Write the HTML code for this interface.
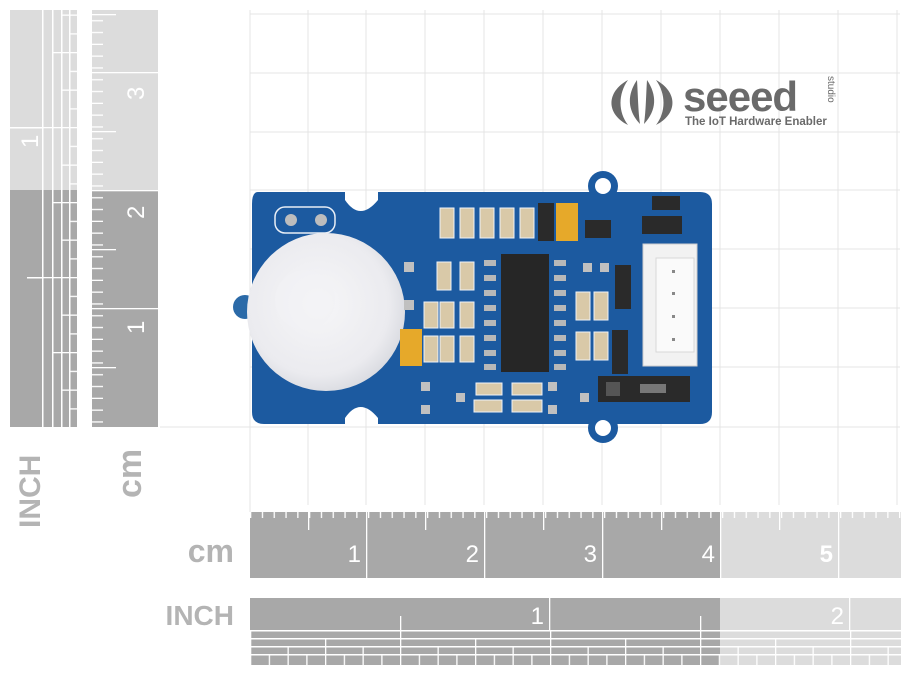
<!DOCTYPE html>
<html><head><meta charset="utf-8"><style>
html,body{margin:0;padding:0;background:#fff;}
svg{display:block;}
text{font-family:"Liberation Sans","DejaVu Sans",sans-serif;}
</style></head><body>
<svg width="911" height="675" viewBox="0 0 911 675" xmlns="http://www.w3.org/2000/svg">
<defs>
 <pattern id="vcmL" x="0" y="427" width="30" height="11.8" patternUnits="userSpaceOnUse" patternTransform="scale(1,-1)">
  <rect x="0" y="0" width="13" height="1.3" fill="#fff"/>
 </pattern>
 <pattern id="hcmB" x="250" y="0" width="11.8" height="30" patternUnits="userSpaceOnUse">
  <rect x="0" y="0" width="1.3" height="8" fill="#fff"/>
 </pattern>
 <pattern id="s16v" x="0" y="427" width="10" height="18.75" patternUnits="userSpaceOnUse"><rect width="10" height="1.3" fill="#fff"/></pattern>
 <pattern id="s8v" x="0" y="427" width="10" height="37.5" patternUnits="userSpaceOnUse"><rect width="10" height="1.3" fill="#fff"/></pattern>
 <pattern id="s4v" x="0" y="427" width="10" height="75" patternUnits="userSpaceOnUse"><rect width="10" height="1.3" fill="#fff"/></pattern>
 <pattern id="s2v" x="0" y="427" width="10" height="150" patternUnits="userSpaceOnUse"><rect width="10" height="1.3" fill="#fff"/></pattern>
 <pattern id="s16h" x="250" y="0" width="18.75" height="10" patternUnits="userSpaceOnUse"><rect width="1.3" height="10" fill="#fff"/></pattern>
 <pattern id="s8h" x="250" y="0" width="37.5" height="10" patternUnits="userSpaceOnUse"><rect width="1.3" height="10" fill="#fff"/></pattern>
 <pattern id="s4h" x="250" y="0" width="75" height="10" patternUnits="userSpaceOnUse"><rect width="1.3" height="10" fill="#fff"/></pattern>
 <pattern id="s2h" x="250" y="0" width="150" height="10" patternUnits="userSpaceOnUse"><rect width="1.3" height="10" fill="#fff"/></pattern>
 <radialGradient id="dome" cx="0.45" cy="0.45" r="0.6"><stop offset="0" stop-color="#f6f6f8"/><stop offset="0.75" stop-color="#ebebef"/><stop offset="1" stop-color="#d6d8de"/></radialGradient>
</defs>

<!-- grid -->
<g stroke="#e4e4e4" stroke-width="1">
 <line x1="250" y1="10" x2="250" y2="512"/>
 <line x1="308" y1="10" x2="308" y2="505"/><line x1="366" y1="10" x2="366" y2="505"/>
 <line x1="425" y1="10" x2="425" y2="505"/><line x1="484" y1="10" x2="484" y2="505"/>
 <line x1="543" y1="10" x2="543" y2="505"/><line x1="602" y1="10" x2="602" y2="505"/>
 <line x1="661" y1="10" x2="661" y2="505"/><line x1="720" y1="10" x2="720" y2="505"/>
 <line x1="779" y1="10" x2="779" y2="505"/><line x1="838" y1="10" x2="838" y2="505"/>
 <line x1="897" y1="10" x2="897" y2="505"/>
 <line x1="250" y1="14" x2="900" y2="14"/><line x1="250" y1="73" x2="900" y2="73"/>
 <line x1="250" y1="132" x2="900" y2="132"/><line x1="250" y1="190" x2="900" y2="190"/>
 <line x1="250" y1="249" x2="900" y2="249"/><line x1="250" y1="308" x2="900" y2="308"/>
 <line x1="250" y1="367" x2="900" y2="367"/><line x1="160" y1="427" x2="900" y2="427"/>
</g>

<!-- left INCH ruler -->
<rect x="10" y="10" width="67" height="180" fill="#dcdcdc"/>
<rect x="10" y="190" width="67" height="237" fill="#a8a8a8"/>
<rect x="42" y="10" width="1.5" height="417" fill="#fff"/>
<rect x="52" y="10" width="1.5" height="417" fill="#fff"/>
<rect x="61" y="10" width="1.5" height="417" fill="#fff"/>
<rect x="69" y="10" width="1.5" height="417" fill="#fff"/>
<rect x="43.5" y="10" width="8.5" height="417" fill="url(#s2v)"/>
<rect x="53.5" y="10" width="7.5" height="417" fill="url(#s4v)"/>
<rect x="62.5" y="10" width="6.5" height="417" fill="url(#s8v)"/>
<rect x="70.5" y="10" width="6.5" height="417" fill="url(#s16v)"/>
<rect x="10" y="127" width="33" height="1.5" fill="#fff"/>
<rect x="27" y="277" width="16" height="1.5" fill="#fff"/>
<text transform="translate(38,148) rotate(-90)" font-size="24" fill="#fff">1</text>

<!-- left cm ruler -->
<rect x="92" y="10" width="66" height="180" fill="#dcdcdc"/>
<rect x="92" y="190" width="66" height="237" fill="#a8a8a8"/>
<rect x="92" y="10" width="13" height="417" fill="url(#vcmL)"/>
<g fill="#fff">
 <rect x="92" y="72" width="66" height="1.3"/><rect x="92" y="190" width="66" height="1.3"/><rect x="92" y="308" width="66" height="1.3"/>
 <rect x="92" y="131" width="24" height="1.3"/><rect x="92" y="249" width="24" height="1.3"/><rect x="92" y="367" width="24" height="1.3"/>
 <rect x="92" y="14" width="24" height="1.3"/>
</g>
<text transform="translate(144,100) rotate(-90)" font-size="24" fill="#fff">3</text>
<text transform="translate(144,219) rotate(-90)" font-size="24" fill="#fff">2</text>
<text transform="translate(144,334) rotate(-90)" font-size="24" fill="#fff">1</text>

<text transform="translate(40,528) rotate(-90)" font-size="30" font-weight="bold" fill="#b4b4b4">INCH</text>
<text transform="translate(141,498) rotate(-90)" font-size="34" font-weight="bold" fill="#b4b4b4">cm</text>

<!-- bottom cm ruler -->
<rect x="250" y="512" width="470" height="66" fill="#a8a8a8"/>
<rect x="720" y="512" width="181" height="66" fill="#dcdcdc"/>
<rect x="250" y="512" width="651" height="8" fill="url(#hcmB)"/>
<g fill="#fff">
 <rect x="366" y="512" width="1.3" height="66"/><rect x="484" y="512" width="1.3" height="66"/>
 <rect x="602" y="512" width="1.3" height="66"/><rect x="720" y="512" width="1.3" height="66"/>
 <rect x="838" y="512" width="1.3" height="66"/>
 <rect x="308" y="512" width="1.3" height="18"/><rect x="425" y="512" width="1.3" height="18"/>
 <rect x="543" y="512" width="1.3" height="18"/><rect x="661" y="512" width="1.3" height="18"/>
 <rect x="779" y="512" width="1.3" height="18"/>
</g>
<g font-size="24" fill="#fff" text-anchor="end">
 <text x="361" y="562">1</text><text x="479" y="562">2</text><text x="597" y="562">3</text><text x="715" y="562">4</text><text x="833" y="562" font-weight="bold">5</text>
</g>
<text x="234" y="562" font-size="32" font-weight="bold" fill="#b4b4b4" text-anchor="end">cm</text>

<!-- bottom inch ruler -->
<rect x="250" y="598" width="470" height="67" fill="#a8a8a8"/>
<rect x="720" y="598" width="181" height="67" fill="#dcdcdc"/>
<rect x="250" y="630" width="651" height="1.5" fill="#fff"/>
<rect x="250" y="638" width="651" height="1.5" fill="#fff"/>
<rect x="250" y="646" width="651" height="1.5" fill="#fff"/>
<rect x="250" y="654" width="651" height="1.5" fill="#fff"/>
<rect x="250" y="631.5" width="651" height="6.5" fill="url(#s2h)"/>
<rect x="250" y="639.5" width="651" height="6.5" fill="url(#s4h)"/>
<rect x="250" y="647.5" width="651" height="6.5" fill="url(#s8h)"/>
<rect x="250" y="655.5" width="651" height="9.5" fill="url(#s16h)"/>
<g fill="#fff">
 <rect x="549" y="598" width="1.3" height="33"/><rect x="849" y="598" width="1.3" height="33"/>
 <rect x="400" y="616" width="1.3" height="15"/><rect x="700" y="616" width="1.3" height="15"/>
</g>
<text x="544" y="624" font-size="24" fill="#fff" text-anchor="end">1</text>
<text x="844" y="624" font-size="24" fill="#fff" text-anchor="end">2</text>
<text x="234" y="625" font-size="28" font-weight="bold" fill="#b4b4b4" text-anchor="end">INCH</text>

<!-- logo -->
<g fill="#6a6a6a">
 <path d="M628 80 C606 92 606 114 628 125 C618 112 618 94 628 80Z"/>
 <path d="M656 80 C678 92 678 114 656 125 C666 112 666 94 656 80Z"/>
 <path d="M637 80 C627 95 627 110 640 124 C638 110 638 95 637 80Z"/>
 <path d="M647 80 C657 95 657 110 644 124 C646 110 646 95 647 80Z"/>
</g>
<text x="683" y="111" font-size="42" font-weight="bold" fill="#6a6a6a" letter-spacing="-1">seeed</text>
<text transform="translate(828,76) rotate(90)" font-size="10" fill="#6a6a6a">studio</text>
<text x="685" y="125" font-size="11.5" font-weight="bold" fill="#6a6a6a">The IoT Hardware Enabler</text>

<!-- board -->
<g>
 <circle cx="603" cy="186" r="15" fill="#1c5aa0"/>
 <circle cx="603" cy="428" r="15" fill="#1c5aa0"/>
 <circle cx="245" cy="307" r="12" fill="#2b6aa8"/>
 <path d="M258 192 H345 V200 Q360 222 378 200 V192 H700 Q712 192 712 204 V412 Q712 424 700 424 H378 V418 Q360 396 345 418 V424 H264 Q252 424 252 412 V204 Q252 192 258 192Z" fill="#1c5aa0"/>
 <circle cx="603" cy="186" r="8" fill="#fff"/>
 <circle cx="603" cy="428" r="8" fill="#fff"/>
 <rect x="275" y="207" width="60" height="26" rx="10" fill="none" stroke="#e8eef6" stroke-width="1.5"/>
 <circle cx="291" cy="220" r="6" fill="#bdbdbd"/><circle cx="321" cy="220" r="6" fill="#bdbdbd"/>
 <circle cx="326" cy="312" r="79" fill="url(#dome)"/>
 <circle cx="305" cy="300" r="30" fill="#f2f2f5" opacity="0.6"/>
 <!-- IC -->
 <rect x="501" y="254" width="48" height="118" fill="#262626"/>
 <g fill="#b8b8b8">
  <rect x="484" y="260" width="12" height="6"/><rect x="484" y="275" width="12" height="6"/><rect x="484" y="290" width="12" height="6"/><rect x="484" y="305" width="12" height="6"/>
  <rect x="484" y="320" width="12" height="6"/><rect x="484" y="335" width="12" height="6"/><rect x="484" y="350" width="12" height="6"/><rect x="484" y="364" width="12" height="6"/>
  <rect x="554" y="260" width="12" height="6"/><rect x="554" y="275" width="12" height="6"/><rect x="554" y="290" width="12" height="6"/><rect x="554" y="305" width="12" height="6"/>
  <rect x="554" y="320" width="12" height="6"/><rect x="554" y="335" width="12" height="6"/><rect x="554" y="350" width="12" height="6"/><rect x="554" y="364" width="12" height="6"/>
 </g>
 <!-- connector -->
 <rect x="643" y="244" width="54" height="122" fill="#f2f2f2" stroke="#cfcfcf"/>
 <rect x="656" y="258" width="38" height="94" fill="#fafafa" stroke="#d8d8d8"/>
 <g fill="#888"><rect x="672" y="270" width="3" height="3"/><rect x="672" y="292" width="3" height="3"/><rect x="672" y="315" width="3" height="3"/><rect x="672" y="338" width="3" height="3"/></g>
 <!-- jumper -->
 <rect x="598" y="376" width="92" height="26" fill="#2a2a2a"/>
 <rect x="606" y="382" width="14" height="14" fill="#555"/>
 <rect x="640" y="384" width="26" height="9" fill="#777"/>
 <!-- passives -->
 <g fill="#d9c9a8" stroke="#eef2f8" stroke-width="1">
  <rect x="440" y="208" width="14" height="30"/><rect x="460" y="208" width="14" height="30"/><rect x="480" y="208" width="14" height="30"/><rect x="500" y="208" width="14" height="30"/><rect x="520" y="208" width="14" height="30"/>
  <rect x="437" y="262" width="14" height="28"/><rect x="460" y="262" width="14" height="28"/>
  <rect x="424" y="302" width="14" height="26"/><rect x="440" y="302" width="14" height="26"/><rect x="460" y="302" width="14" height="26"/>
  <rect x="424" y="336" width="14" height="26"/><rect x="440" y="336" width="14" height="26"/><rect x="460" y="336" width="14" height="26"/>
  <rect x="576" y="292" width="14" height="28"/><rect x="594" y="292" width="14" height="28"/>
  <rect x="576" y="332" width="14" height="28"/><rect x="594" y="332" width="14" height="28"/>
  <rect x="476" y="383" width="26" height="12"/><rect x="512" y="383" width="30" height="12"/>
  <rect x="474" y="400" width="28" height="12"/><rect x="512" y="400" width="30" height="12"/>
 </g>
 <g fill="#2a2a2a">
  <rect x="538" y="203" width="16" height="38"/><rect x="615" y="265" width="16" height="44"/><rect x="612" y="330" width="16" height="44"/>
  <rect x="652" y="196" width="28" height="14"/><rect x="642" y="216" width="40" height="18"/><rect x="585" y="220" width="26" height="18"/>
 </g>
 <g fill="#e6a92a"><rect x="556" y="203" width="22" height="38"/><rect x="400" y="329" width="22" height="37"/></g>
 <g fill="#c0c0c0">
  <rect x="404" y="262" width="10" height="10"/><rect x="404" y="300" width="10" height="10"/>
  <rect x="421" y="382" width="9" height="9"/><rect x="421" y="405" width="9" height="9"/><rect x="456" y="393" width="9" height="9"/>
  <rect x="548" y="382" width="9" height="9"/><rect x="548" y="405" width="9" height="9"/><rect x="580" y="393" width="9" height="9"/>
  <rect x="583" y="263" width="9" height="9"/><rect x="600" y="263" width="9" height="9"/>
 </g>
</g>
</svg>
</body></html>
